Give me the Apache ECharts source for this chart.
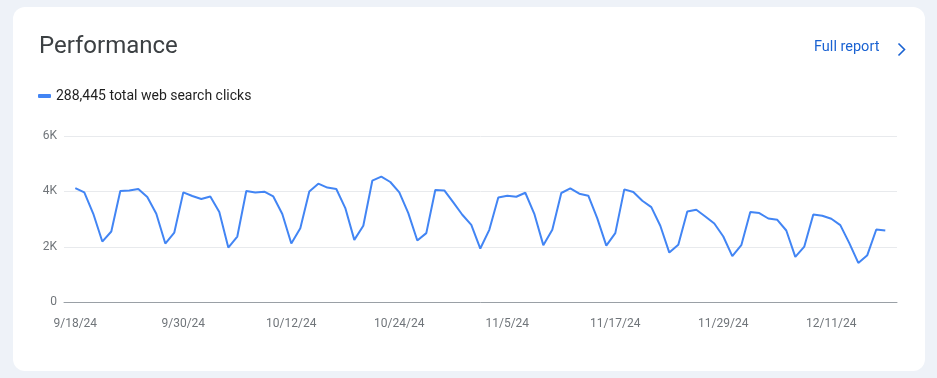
<!DOCTYPE html>
<html>
<head>
<meta charset="utf-8">
<script src="https://cdn.jsdelivr.net/npm/echarts@6/dist/echarts.min.js"></script>
<style>
  html, body { margin: 0; padding: 0; width: 937px; height: 378px; background: #eef2f8; overflow: hidden; }
  #card { position: absolute; left: 13px; top: 7px; width: 912px; height: 364px; background: #ffffff; border-radius: 12px; }
  #chart { position: absolute; left: 0; top: 0; width: 937px; height: 378px; }
</style>
</head>
<body>
<div id="card"></div>
<div id="chart"></div>
<script>
// ---- data ----
const TITLE = 'Performance';
const SERIES_NAME = '288,445 total web search clicks';
const START_DATE = [2024, 9, 18];
const LABEL_EVERY = 12;
const clicks = [
  4120, 3965, 3194, 2192, 2554, 4015, 4037, 4087, 3798, 3194,
  2120, 2517, 3965, 3834, 3726, 3820, 3255, 1975, 2373, 4015,
  3965, 3990, 3820, 3183, 2120, 2670, 4000, 4279, 4140, 4087,
  3400, 2253, 2760, 4387, 4532, 4340, 3965, 3219, 2228, 2496,
  4051, 4037, 3603, 3158, 2796, 1939, 2615, 3783, 3845, 3809,
  3953, 3194, 2062, 2615, 3943, 4109, 3917, 3845, 3030, 2047,
  2496, 4073, 3979, 3664, 3436, 2760, 1794, 2073, 3277, 3339,
  3096, 2843, 2373, 1664, 2062, 3255, 3219, 3024, 2977, 2590,
  1638, 2011, 3169, 3121, 3013, 2785, 2134, 1421, 1700, 2626,
  2590
];
const yTicks = [0, 2000, 4000, 6000];

// category labels: consecutive days from the start date
const categories = [];
{
  const d = new Date(START_DATE[0], START_DATE[1] - 1, START_DATE[2]);
  for (let i = 0; i < clicks.length; i++) {
    categories.push((d.getMonth() + 1) + '/' + d.getDate() + '/' + String(d.getFullYear()).slice(2));
    d.setDate(d.getDate() + 1);
  }
}

const FONT = 'Roboto, "Noto Sans", sans-serif';
const chart = echarts.init(document.getElementById('chart'), null, { renderer: 'canvas' });
const yMax = yTicks[yTicks.length - 1];
const yStep = yTicks[1] - yTicks[0];

chart.setOption({
  backgroundColor: 'transparent',
  animation: false,
  textStyle: { fontFamily: FONT },
  title: {
    text: TITLE,
    left: 34, top: 30,
    textStyle: { fontFamily: FONT, fontSize: 24, fontWeight: 'normal', color: '#3c4043' }
  },
  legend: {
    left: 33, top: 84,
    icon: 'roundRect',
    itemWidth: 13, itemHeight: 4, itemGap: 6,
    textStyle: { fontFamily: FONT, fontSize: 14, color: '#1f1f1f' },
    data: [SERIES_NAME]
  },
  graphic: [
    {
      type: 'text', left: 814, top: 40,
      style: { text: 'Full report', fontFamily: FONT, fontSize: 14.5, fontWeight: 'normal', fill: '#1a62d2' }
    },
    {
      type: 'polyline', left: 896, top: 41,
      shape: { points: [[0, 0], [6, 6], [0, 12]] },
      style: { stroke: '#1a62d2', lineWidth: 1.6, fill: 'none' }
    }
  ],
  grid: [
    { left: 64, right: 40, top: 136, bottom: 75.7, outerBoundsMode: 'none' },
    { left: 75.3, right: 51.7, top: 136, bottom: 75.7, outerBoundsMode: 'none' }
  ],
  xAxis: [
    {
      gridIndex: 0, type: 'value', min: 0, max: 1,
      axisLine: { show: true, lineStyle: { color: '#9aa0a6', width: 1 } },
      axisTick: { show: false }, axisLabel: { show: false }, splitLine: { show: false }
    },
    {
      gridIndex: 1, type: 'category', data: categories, boundaryGap: false,
      axisLine: { show: false }, axisTick: { show: false }, splitLine: { show: false },
      axisLabel: {
        interval: (idx) => idx % LABEL_EVERY === 0 && idx < clicks.length - 1,
        hideOverlap: false,
        margin: 16, fontFamily: FONT, fontSize: 12, color: '#70757a'
      }
    }
  ],
  yAxis: [
    {
      gridIndex: 0, type: 'value', min: 0, max: yMax, interval: yStep,
      axisLine: { show: false }, axisTick: { show: false },
      splitLine: { show: true, lineStyle: { color: '#e8eaed', width: 1 } },
      axisLabel: {
        margin: 7, fontFamily: FONT, fontSize: 12, color: '#70757a',
        formatter: v => v === 0 ? '0' : (v / 1000) + 'K'
      }
    },
    {
      gridIndex: 1, type: 'value', min: 0, max: yMax, interval: yStep,
      show: false, splitLine: { show: false }
    }
  ],
  series: [
    {
      name: SERIES_NAME, type: 'line', xAxisIndex: 1, yAxisIndex: 1,
      data: clicks, showSymbol: false, symbol: 'none', z: 5,
      itemStyle: { color: '#4285f4' },
      lineStyle: { color: '#4285f4', width: 2 }
    }
  ]
});
</script>
</body>
</html>
